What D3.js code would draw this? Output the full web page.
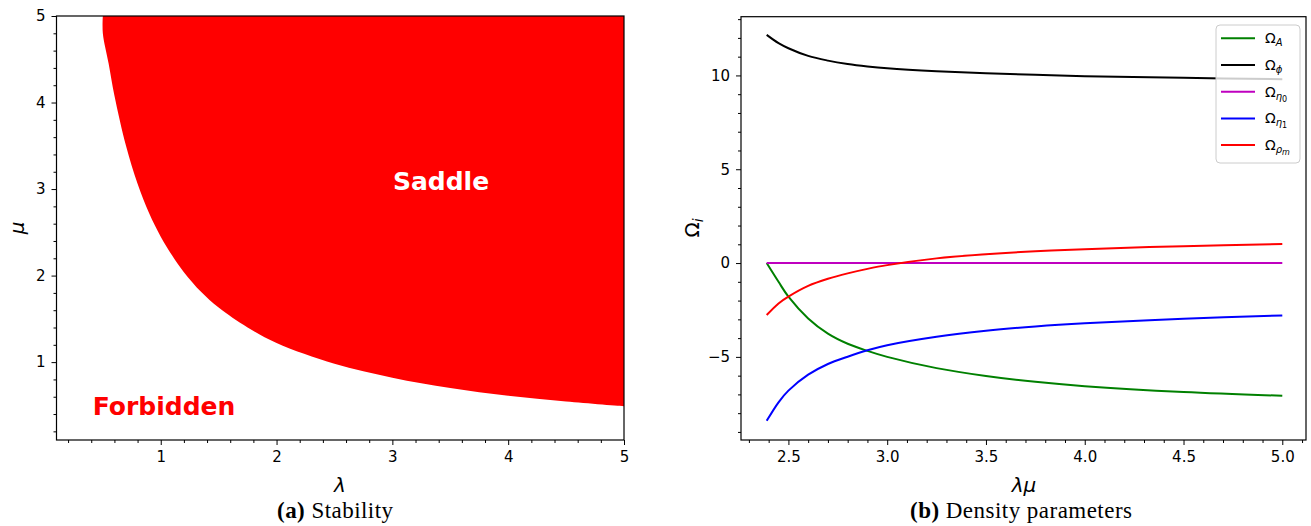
<!DOCTYPE html>
<html>
<head>
<meta charset="utf-8">
<script src="https://cdn.jsdelivr.net/npm/d3@7"></script>
<style>
  body { margin: 0; background: white; }
  svg { display: block; }
  text { font-family: "DejaVu Sans", sans-serif; fill: #000; }
</style>
</head>
<body>
<div id="chart"></div>
<script>
// data - panel (a): boundary of the saddle region
const stabLambda = [0.50, 0.50, 0.55, 0.60, 0.70, 0.80, 0.90, 1.00, 1.10, 1.20, 1.35, 1.50, 1.75, 2.00, 2.50, 3.00, 3.50, 4.00, 4.50, 5.00];
const stabMu     = [5.00, 4.80, 4.45, 4.08, 3.50, 3.06, 2.72, 2.45, 2.23, 2.04, 1.81, 1.63, 1.40, 1.22, 0.98, 0.82, 0.70, 0.61, 0.545, 0.49];
const stabTicks = [1, 2, 3, 4, 5];

// data - panel (b): density parameters vs lambda*mu
const lamMu     = [2.39, 2.45, 2.50, 2.60, 2.70, 2.80, 2.90, 3.00, 3.25, 3.50, 3.75, 4.00, 4.50, 5.00];
const omegaA    = [0.00, -1.00, -1.79, -2.95, -3.76, -4.30, -4.68, -5.00, -5.60, -6.02, -6.33, -6.56, -6.87, -7.07];
const omegaPhi  = [12.16, 11.72, 11.45, 11.04, 10.79, 10.61, 10.48, 10.38, 10.22, 10.11, 10.03, 9.96, 9.87, 9.80];
const omegaEta0 = [0, 0, 0, 0, 0, 0, 0, 0, 0, 0, 0, 0, 0, 0];
const omegaEta1 = [-8.41, -7.42, -6.80, -5.95, -5.38, -4.99, -4.65, -4.38, -3.93, -3.61, -3.38, -3.21, -2.97, -2.79];
const omegaRho  = [-2.77, -2.15, -1.79, -1.22, -0.84, -0.55, -0.31, -0.11, 0.25, 0.47, 0.63, 0.74, 0.90, 1.01];
const densXTicks = [2.5, 3.0, 3.5, 4.0, 4.5, 5.0];
const densYTicks = [-5, 0, 5, 10];

const series = [
    {key: "A",    sub: "A", subsub: null, values: omegaA,    color: "#008000"},
    {key: "phi",  sub: "ϕ", subsub: null, values: omegaPhi,  color: "#000000"},
    {key: "eta0", sub: "η", subsub: "0",  values: omegaEta0, color: "#bf00bf"},
    {key: "eta1", sub: "η", subsub: "1",  values: omegaEta1, color: "#0000ff"},
    {key: "rho",  sub: "ρ", subsub: "m",  values: omegaRho,  color: "#ff0000"}
];

// config
const width = 1311;
const height = 526;
const fmtMinus = s => s.replace("-", "\u2212");

const svg = d3.select("#chart").append("svg")
    .attr("width", width)
    .attr("height", height);

// ticks on left + bottom, box frame all round
const drawAxes = (g, x, y, xMajor, xMinor, yMajor, yMinor, xFmt, yFmt) => {
    const [x0, x1] = x.range();
    const [y0, y1] = y.range();
    const ax = g.append("g")
        .attr("transform", `translate(0,${y0})`)
        .call(d3.axisBottom(x).tickValues(xMinor).tickSize(3).tickFormat(""));
    ax.select(".domain").remove();
    const axM = g.append("g")
        .attr("transform", `translate(0,${y0})`)
        .call(d3.axisBottom(x).tickValues(xMajor).tickSize(5).tickPadding(6).tickFormat(xFmt));
    axM.select(".domain").remove();
    axM.selectAll("text").attr("font-size", 15).attr("font-family", "DejaVu Sans");

    const ay = g.append("g")
        .attr("transform", `translate(${x0},0)`)
        .call(d3.axisLeft(y).tickValues(yMinor).tickSize(3).tickFormat(""));
    ay.select(".domain").remove();
    const ayM = g.append("g")
        .attr("transform", `translate(${x0},0)`)
        .call(d3.axisLeft(y).tickValues(yMajor).tickSize(5).tickPadding(6).tickFormat(yFmt));
    ayM.select(".domain").remove();
    ayM.selectAll("text").attr("font-size", 15).attr("font-family", "DejaVu Sans");

    g.selectAll(".tick line").attr("stroke", "#000").attr("stroke-width", 1);

    g.append("rect")
        .attr("x", x0).attr("y", y1)
        .attr("width", x1 - x0).attr("height", y0 - y1)
        .attr("fill", "none")
        .attr("stroke", "#000")
        .attr("stroke-width", 1.2);
}

// ---------- panel (a) ----------
const xa = d3.scaleLinear().domain([0.1, 5]).range([56.5, 624]);
const ya = d3.scaleLinear().domain([0.1, 5]).range([440, 16]);

const stab = stabLambda.map((l, i) => ({l: l, m: stabMu[i]}));
const panelA = svg.append("g");

panelA.append("path")
    .datum(stab)
    .attr("fill", "#ff0000")
    .attr("d", d3.area()
        .x(d => xa(d.l))
        .y0(d => ya(d.m))
        .y1(ya(5))
        .curve(d3.curveCatmullRom.alpha(0.5)));

const minorA = d3.range(0.2, 5, 0.2).filter(v => Math.abs(v - Math.round(v)) > 1e-6);
drawAxes(panelA, xa, ya, stabTicks, minorA, stabTicks, minorA, d3.format("d"), d3.format("d"));

panelA.append("text")
    .attr("x", 441).attr("y", 181)
    .attr("text-anchor", "middle")
    .attr("dominant-baseline", "central")
    .attr("font-size", 25).attr("font-weight", "bold")
    .style("fill", "#fff")
    .text("Saddle");
panelA.append("text")
    .attr("x", 164).attr("y", 406)
    .attr("text-anchor", "middle")
    .attr("dominant-baseline", "central")
    .attr("font-size", 25).attr("font-weight", "bold")
    .style("fill", "#ff0000")
    .text("Forbidden");

panelA.append("text")
    .attr("x", 340).attr("y", 492)
    .attr("text-anchor", "middle")
    .attr("font-size", 20).attr("font-style", "italic")
    .text("λ");
panelA.append("text")
    .attr("transform", "translate(24,228) rotate(-90)")
    .attr("text-anchor", "middle")
    .attr("font-size", 20).attr("font-style", "italic")
    .text("μ");

// ---------- panel (b) ----------
const xb = d3.scaleLinear().domain([2.26, 5.12]).range([741, 1306]);
const yb = d3.scaleLinear().domain([-9.43, 13.13]).range([440, 16.7]);
const panelB = svg.append("g");

const line = d3.line()
    .x(d => xb(d.x))
    .y(d => yb(d.y))
    .curve(d3.curveCatmullRom.alpha(0.5));

panelB.selectAll("path.series")
    .data(series)
    .enter().append("path")
    .attr("class", "series")
    .attr("fill", "none")
    .attr("stroke", d => d.color)
    .attr("stroke-width", 2)
    .attr("d", d => line(d.values.map((v, i) => ({x: lamMu[i], y: v}))));

const minorBx = d3.range(23, 52).map(v => v / 10).filter(v => Math.abs(v * 2 - Math.round(v * 2)) > 1e-6);
const minorBy = d3.range(-9, 14).filter(v => v % 5 !== 0);
drawAxes(panelB, xb, yb, densXTicks, minorBx, densYTicks, minorBy,
    d3.format(".1f"), d => fmtMinus(d3.format("d")(d)));

panelB.append("text")
    .attr("x", 1024).attr("y", 492)
    .attr("text-anchor", "middle")
    .attr("font-size", 20).attr("font-style", "italic")
    .text("λμ");
const yLab = panelB.append("text")
    .attr("transform", "translate(699,228) rotate(-90)")
    .attr("text-anchor", "middle")
    .attr("font-size", 20);
yLab.append("tspan").text("Ω");
yLab.append("tspan").attr("font-size", 14).attr("font-style", "italic").attr("dy", 4).text("i");

// legend
const legend = panelB.append("g").attr("transform", "translate(1216,25)");
legend.append("rect")
    .attr("width", 84).attr("height", 138)
    .attr("rx", 4)
    .attr("fill", "#fff").attr("fill-opacity", 0.8)
    .attr("stroke", "#cccccc").attr("stroke-width", 1);

const entry = legend.selectAll("g.entry")
    .data(series)
    .enter().append("g")
    .attr("class", "entry")
    .attr("transform", (d, i) => `translate(0,${13.3 + i * 26.7})`);
entry.append("line")
    .attr("x1", 5).attr("x2", 39)
    .attr("stroke", d => d.color)
    .attr("stroke-width", 2);
const lt = entry.append("text")
    .attr("x", 49).attr("y", 5)
    .attr("font-size", 14);
lt.append("tspan").text("Ω");
lt.append("tspan")
    .attr("font-size", 10).attr("font-style", "italic").attr("dy", 3)
    .text(d => d.sub);
lt.filter(d => d.subsub !== null).append("tspan")
    .attr("font-size", 8)
    .attr("font-style", d => /\d/.test(d.subsub) ? "normal" : "italic")
    .attr("dy", 2)
    .text(d => d.subsub);

// captions
const capA = svg.append("text")
    .attr("x", 335).attr("y", 518)
    .attr("text-anchor", "middle")
    .attr("font-size", 23)
    .style("font-family", "'Liberation Serif', serif")
    .attr("textLength", 116).attr("lengthAdjust", "spacing");
capA.append("tspan").attr("font-weight", "bold").text("(a)");
capA.append("tspan").text(" Stability");

const capB = svg.append("text")
    .attr("x", 1021).attr("y", 518)
    .attr("text-anchor", "middle")
    .attr("font-size", 23)
    .style("font-family", "'Liberation Serif', serif")
    .attr("textLength", 222).attr("lengthAdjust", "spacing");
capB.append("tspan").attr("font-weight", "bold").text("(b)");
capB.append("tspan").text(" Density parameters");
</script>
</body>
</html>
